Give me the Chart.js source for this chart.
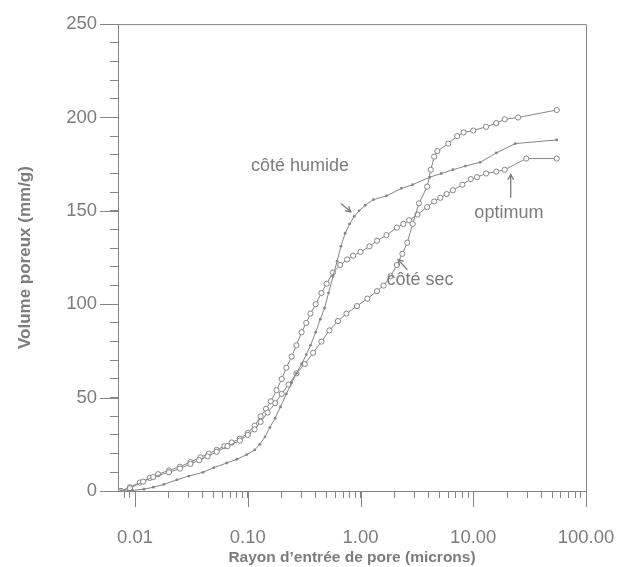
<!DOCTYPE html>
<html>
<head>
<meta charset="utf-8">
<script src="https://cdn.jsdelivr.net/npm/chart.js@4"></script>
<style>
  body { margin: 0; background: #fff; }
</style>
</head>
<body>
<canvas id="pore-chart" width="619" height="567"></canvas>
<script>
// côté humide (small dots)
const humideRayon = [0.0075, 0.0095, 0.012, 0.0145, 0.018, 0.0235, 0.03, 0.04, 0.05, 0.065, 0.08, 0.098, 0.115, 0.128, 0.142, 0.157,
    0.175, 0.195, 0.22, 0.245, 0.27, 0.3, 0.33, 0.36, 0.4, 0.44, 0.48, 0.52, 0.57, 0.62, 0.67, 0.73, 0.8, 0.88, 0.97, 1.1, 1.3,
    1.7, 2.3, 2.9, 4.1, 5.2, 6.6, 8.5, 11.5, 16, 23.5, 55]
const humideVolume = [0, 0.3, 1, 2, 3.5, 6, 8, 10, 12.5, 15, 17, 19.5, 22, 25, 29, 34,
    39, 45, 52, 58, 63, 68, 73, 78, 85, 92, 98, 106, 115, 123, 131, 138, 143, 147, 150, 153, 156,
    158, 162, 164, 168, 170, 172, 174, 176, 181, 186, 188]

// côté sec (open circles)
const secRayon = [0.0075, 0.009, 0.0118, 0.0145, 0.02, 0.025, 0.031, 0.037, 0.044, 0.053, 0.066, 0.085, 0.1, 0.115, 0.13, 0.15,
    0.175, 0.2, 0.23, 0.27, 0.32, 0.38, 0.45, 0.53, 0.63, 0.75, 0.93, 1.15, 1.4, 1.6, 1.85, 2.1, 2.35, 2.6, 2.9, 3.3, 3.9,
    4.2, 4.5, 4.8, 6, 7.2, 8.2, 10, 13, 16, 19, 25, 55]
const secVolume = [0, 1.5, 5, 7.5, 10, 12, 14.5, 16.5, 18.5, 21, 24, 27, 30, 33, 37, 42,
    47, 52, 57, 63, 68, 74, 80, 86, 91, 95, 99, 103, 107, 110, 115, 121, 127, 133, 143, 154, 163,
    172, 179, 182, 186, 190, 192, 193, 195, 197, 199, 200, 204]

// optimum (open circles)
const optimumRayon = [0.0075, 0.009, 0.011, 0.0135, 0.016, 0.02, 0.025, 0.031, 0.038, 0.045, 0.053, 0.062, 0.072, 0.085, 0.1,
    0.115, 0.13, 0.145, 0.16, 0.18, 0.2, 0.22, 0.245, 0.27, 0.3, 0.33, 0.36, 0.4, 0.45, 0.5, 0.57, 0.66, 0.76, 0.86, 1.0,
    1.2, 1.4, 1.7, 2.1, 2.4, 2.7, 3.2, 3.9, 4.5, 5.1, 5.8, 6.6, 8, 9.5, 10.8, 13, 16, 19, 29.5, 55]
const optimumVolume = [0, 2, 4.5, 7, 9, 11, 13, 15.5, 18, 20, 22, 24, 26, 28, 31,
    35, 40, 44, 48, 54, 60, 66, 72, 78, 85, 90, 95, 100, 106, 111, 117, 121, 124, 126, 128,
    131, 134, 137, 141, 143, 145, 148, 152, 155, 157, 159, 161, 164, 167, 168, 170, 171, 172, 178, 178]

const xMin = 0.00706
const xMax = 100
const xDecades = [0.001, 0.01, 0.1, 1, 10]
const xMajorLabels = [0.01, 0.1, 1, 10, 100]
const yMajorLabels = [0, 50, 100, 150, 200, 250]

const grey = '#858585'
const textGrey = '#7c7c7c'

// minor ticks 2..9 inside each decade, plus the decade marks
const xTickValues = []
xDecades.forEach(d => {
    for (let m = 1; m <= 9; m++) {
        const v = Number((m * d).toPrecision(3))
        if (v >= xMin) xTickValues.push(v)
    }
})
xTickValues.push(xMax)

const notes = [
    { text: 'côté humide', x: 0.29, y: 174, arrow: [0.67, 154, 0.82, 149.5] },
    { text: 'côté sec', x: 3.37, y: 113, arrow: [2.6, 118.5, 2.15, 124] },
    { text: 'optimum', x: 20.7, y: 149, arrow: [21.5, 157, 21.5, 169.5] }
]

const toPoints = (xs, ys) => xs.map((x, i) => ({ x, y: ys[i] }))

Chart.defaults.font.family = '"Liberation Sans", Arial, sans-serif'

const framePlugin = {
    id: 'frame',
    afterDraw(chart) {
        const { ctx, chartArea: a, scales: { x, y } } = chart
        ctx.save()
        ctx.strokeStyle = grey
        ctx.lineWidth = 1
        ctx.beginPath()
        ctx.moveTo(a.left, a.top + 0.5)
        ctx.lineTo(a.right + 0.5, a.top + 0.5)
        ctx.lineTo(a.right + 0.5, a.bottom)
        // long ticks for labelled values
        xMajorLabels.forEach(v => {
            const px = Math.round(x.getPixelForValue(v)) + 0.5
            ctx.moveTo(px, a.bottom)
            ctx.lineTo(px, a.bottom + 16)
        })
        yMajorLabels.forEach(v => {
            const py = Math.round(y.getPixelForValue(v)) + 0.5
            ctx.moveTo(a.left - 18, py)
            ctx.lineTo(a.left, py)
        })
        ctx.stroke()

        ctx.fillStyle = textGrey
        ctx.font = '18px "Liberation Sans", Arial, sans-serif'
        ctx.textAlign = 'center'
        ctx.textBaseline = 'middle'
        notes.forEach(n => {
            ctx.fillText(n.text, x.getPixelForValue(n.x), y.getPixelForValue(n.y))
            const [x0, y0, x1, y1] = n.arrow
            const sx = x.getPixelForValue(x0), sy = y.getPixelForValue(y0)
            const ex = x.getPixelForValue(x1), ey = y.getPixelForValue(y1)
            const ang = Math.atan2(ey - sy, ex - sx)
            ctx.beginPath()
            ctx.strokeStyle = textGrey
            ctx.lineWidth = 1.3
            ctx.moveTo(sx, sy)
            ctx.lineTo(ex, ey)
            ctx.moveTo(ex - 6 * Math.cos(ang - 0.5), ey - 6 * Math.sin(ang - 0.5))
            ctx.lineTo(ex, ey)
            ctx.lineTo(ex - 6 * Math.cos(ang + 0.5), ey - 6 * Math.sin(ang + 0.5))
            ctx.stroke()
        })
        ctx.restore()
    }
}

const lineStyle = {
    showLine: true,
    borderColor: grey,
    borderWidth: 1,
    tension: 0
}

const data = {
    datasets: [{
        label: 'côté humide',
        data: toPoints(humideRayon, humideVolume),
        ...lineStyle,
        pointRadius: 1.4,
        pointBackgroundColor: grey,
        pointBorderColor: grey,
        pointBorderWidth: 0
    }, {
        label: 'côté sec',
        data: toPoints(secRayon, secVolume),
        ...lineStyle,
        pointRadius: 2.6,
        pointBackgroundColor: '#fff',
        pointBorderColor: grey,
        pointBorderWidth: 1
    }, {
        label: 'optimum',
        data: toPoints(optimumRayon, optimumVolume),
        ...lineStyle,
        pointRadius: 2.6,
        pointBackgroundColor: '#fff',
        pointBorderColor: grey,
        pointBorderWidth: 1
    }]
}

const config = {
    type: 'scatter',
    data,
    options: {
        responsive: false,
        animation: false,
        layout: {
            padding: { top: 24, right: 33, bottom: 0, left: 0 }
        },
        plugins: {
            legend: { display: false },
            tooltip: { enabled: false }
        },
        scales: {
            x: {
                type: 'logarithmic',
                min: xMin,
                max: xMax,
                afterBuildTicks: scale => {
                    scale.ticks = xTickValues.map(v => ({ value: v }))
                },
                afterFit: scale => {
                    scale.height = 76
                    scale.paddingLeft = 0
                    scale.paddingRight = 0
                },
                ticks: {
                    autoSkip: false,
                    maxRotation: 0,
                    padding: 29,
                    color: textGrey,
                    font: { size: 18.5 },
                    callback: v => {
                        const l = Math.log10(v)
                        return Math.abs(l - Math.round(l)) < 1e-9 ? v.toFixed(2) : ''
                    }
                },
                grid: { drawOnChartArea: false, tickLength: 7, color: grey },
                border: { color: grey },
                title: {
                    display: true,
                    text: 'Rayon d\u2019entrée de pore (microns)',
                    color: textGrey,
                    font: { size: 15.5, weight: 'bold' },
                    padding: { top: 0, bottom: 0 }
                }
            },
            y: {
                min: 0,
                max: 250,
                afterFit: scale => { scale.width = 118 },
                ticks: {
                    stepSize: 10,
                    autoSkip: false,
                    padding: 13,
                    color: textGrey,
                    font: { size: 18.5 },
                    callback: v => (v % 50 === 0 ? v : '')
                },
                grid: { drawOnChartArea: false, tickLength: 8, color: grey },
                border: { color: grey },
                title: {
                    display: true,
                    text: 'Volume poreux (mm/g)',
                    color: textGrey,
                    font: { size: 17, weight: 'bold' },
                    padding: { top: 15, bottom: 0 }
                }
            }
        }
    },
    plugins: [framePlugin]
}

const poreChart = new Chart(document.getElementById('pore-chart'), config)
</script>
</body>
</html>
